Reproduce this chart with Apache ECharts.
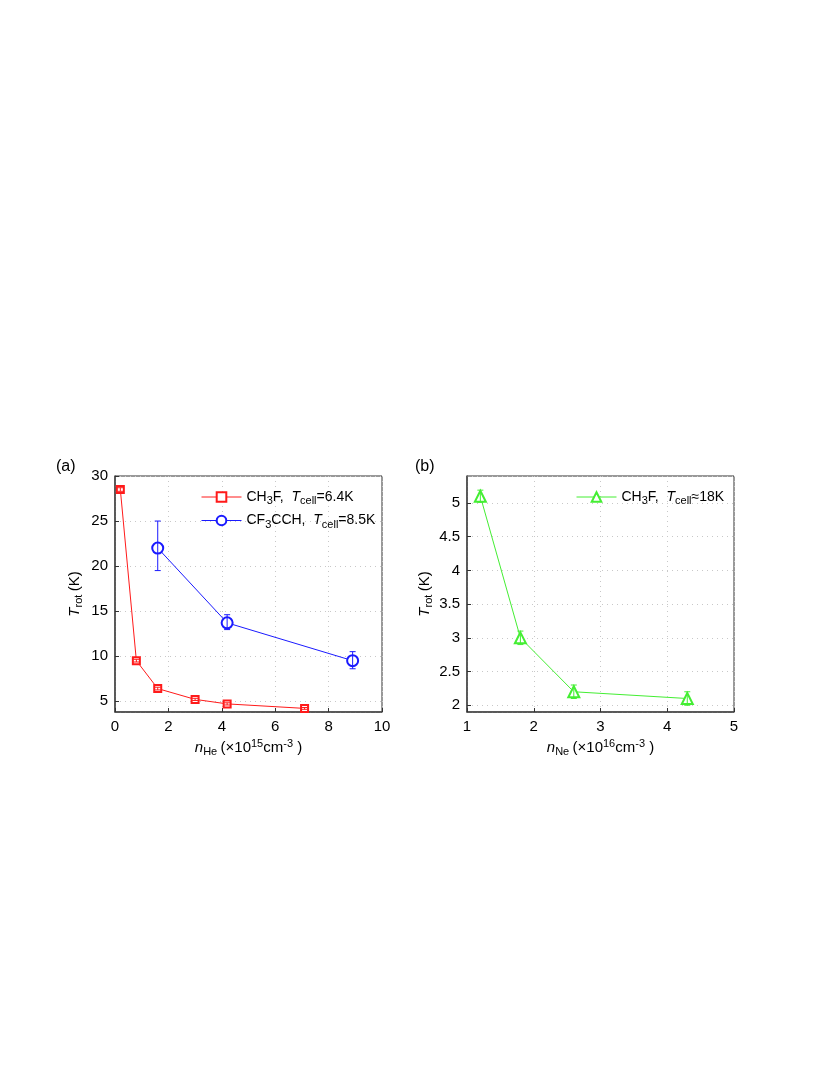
<!DOCTYPE html>
<html><head><meta charset="utf-8">
<script src="https://cdn.jsdelivr.net/npm/echarts@6/dist/echarts.min.js"></script>
<style>html,body{margin:0;padding:0;background:#fff}#c{width:830px;height:1075px}</style>
</head><body><div id="c"></div>
<script>
// Panel (a): CH3F in He
const xRedA = [0.2, 0.8, 1.6, 3.0, 4.2, 7.1];
const yRedA = [28.5, 9.5, 6.4, 5.2, 4.7, 4.2];
const eRedA = [0.2, 0.15, 0.15, 0.12, 0.12, 0.1];
// Panel (a): CF3CCH in He
const xBlueA = [1.6, 4.2, 8.9];
const yBlueA = [22.0, 13.7, 9.5];
const loBlueA = [19.5, 12.95, 8.6];
const hiBlueA = [25.0, 14.6, 10.5];
// Panel (b): CH3F in Ne
const xGreenB = [1.2, 1.8, 2.6, 4.3];
const yGreenB = [5.1, 3.0, 2.2, 2.1];
const eGreenB = [0.09, 0.1, 0.1, 0.1];

const nameRed = 'CH3F, Tcell=6.4K';
const nameBlue = 'CF3CCH, Tcell=8.5K';
const nameGreen = 'CH3F, Tcell~18K';

const FONT = '"Liberation Sans", Arial, sans-serif';
const RED = '#ff1a1a', BLUE = '#1a1aff', GREEN = '#44ee33';

function makeRich(fs, ss) {
  return {
    n: {fontSize: fs, fontFamily: FONT, color: '#000'},
    i: {fontSize: fs, fontFamily: FONT, fontStyle: 'italic', color: '#000'},
    sub: {fontSize: ss, fontFamily: FONT, color: '#000', padding: [8, 0, 0, 0]},
    sup: {fontSize: ss, fontFamily: FONT, color: '#000', padding: [0, 0, 7, 0]}
  };
}
const rich = makeRich(15, 11);
const richLeg = makeRich(14, 11);

function pairs(xs, ys) { return xs.map((x, k) => [x, ys[k]]); }

function errSeries(xi, lo, hi, color, name, idx) {
  const data = xi.map((x, k) => [x, lo[k], hi[k]]);
  return {
    type: 'custom', name: name, xAxisIndex: idx, yAxisIndex: idx,
    data: data, z: 5, silent: true,
    renderItem: function (params, api) {
      const p1 = api.coord([api.value(0), api.value(1)]);
      const p2 = api.coord([api.value(0), api.value(2)]);
      const w = 3;
      const st = {stroke: color, lineWidth: 1};
      return {type: 'group', children: [
        {type: 'line', shape: {x1: p1[0], y1: p1[1], x2: p2[0], y2: p2[1]}, style: st},
        {type: 'line', shape: {x1: p1[0] - w, y1: p1[1], x2: p1[0] + w, y2: p1[1]}, style: st},
        {type: 'line', shape: {x1: p2[0] - w, y1: p2[1], x2: p2[0] + w, y2: p2[1]}, style: st}
      ]};
    }
  };
}

const axisCommon = {
  axisLine: {show: true, onZero: false, lineStyle: {color: '#444', width: 1.5}},
  axisTick: {show: true, inside: true, length: 4, lineStyle: {color: '#333'}},
  axisLabel: {color: '#000', fontSize: 15, fontFamily: FONT, margin: 7},
  splitLine: {show: true, lineStyle: {color: '#c8c8c8', type: [1, 4], width: 1}}
};

const chart = echarts.init(document.getElementById('c'), null, {renderer: 'canvas'});
const option = {
  backgroundColor: '#fff',
  animation: false,
  grid: [
    {left: 115, top: 476, width: 267, height: 236, show: true, borderColor: '#333', borderWidth: 1, backgroundColor: 'transparent'},
    {left: 467, top: 476, width: 267, height: 236, show: true, borderColor: '#333', borderWidth: 1, backgroundColor: 'transparent'}
  ],
  xAxis: [
    Object.assign({}, axisCommon, {type: 'value', gridIndex: 0, min: 0, max: 10, interval: 2,
      name: '{i|n}{sub|He} {n|(×10}{sup|15}{n|cm}{sup|-3}{n| )}', nameLocation: 'middle', nameGap: 26,
      nameTextStyle: {rich: rich}}),
    Object.assign({}, axisCommon, {type: 'value', gridIndex: 1, min: 1, max: 5, interval: 1,
      name: '{i|n}{sub|Ne} {n|(×10}{sup|16}{n|cm}{sup|-3}{n| )}', nameLocation: 'middle', nameGap: 26,
      nameTextStyle: {rich: rich}})
  ],
  yAxis: [
    Object.assign({}, axisCommon, {type: 'value', gridIndex: 0, min: 3.8, max: 30, splitNumber: 5,
      axisLabel: Object.assign({}, axisCommon.axisLabel, {showMinLabel: false}),
      name: '{i|T}{sub|rot} {n|(K)}', nameLocation: 'middle', nameGap: 31, nameRotate: 90,
      nameTextStyle: {rich: rich}}),
    Object.assign({}, axisCommon, {type: 'value', gridIndex: 1, min: 1.9, max: 5.4, splitNumber: 7,
      axisLabel: Object.assign({}, axisCommon.axisLabel, {showMinLabel: false, showMaxLabel: false}),
      name: '{i|T}{sub|rot} {n|(K)}', nameLocation: 'middle', nameGap: 33, nameRotate: 90,
      nameTextStyle: {rich: rich}})
  ],
  legend: [
    {left: 196, top: 485, orient: 'vertical', itemWidth: 40, itemHeight: 12, itemGap: 7,
      data: [nameRed, nameBlue], selectedMode: false,
      lineStyle: {width: 1}, itemStyle: {borderWidth: 1},
      formatter: function (n) {
        if (n === nameRed) return '{n|CH}{sub|3}{n|F,  }{i|T}{sub|cell}{n|=6.4K}';
        return '{n|CF}{sub|3}{n|CCH,  }{i|T}{sub|cell}{n|=8.5K}';
      },
      textStyle: {rich: richLeg}},
    {left: 571, top: 485, orient: 'vertical', itemWidth: 40, itemHeight: 12,
      data: [nameGreen], selectedMode: false,
      lineStyle: {width: 1}, itemStyle: {borderWidth: 1},
      formatter: function () { return '{n|CH}{sub|3}{n|F,  }{i|T}{sub|cell}{n|≈18K}'; },
      textStyle: {rich: richLeg}}
  ],
  graphic: [
    {type: 'text', left: 56, top: 459, style: {text: '(a)', fontSize: 16, fontFamily: FONT, fill: '#000'}},
    {type: 'text', left: 415, top: 459, style: {text: '(b)', fontSize: 16, fontFamily: FONT, fill: '#000'}}
  ],
  series: [
    {type: 'line', name: nameRed, xAxisIndex: 0, yAxisIndex: 0, data: pairs(xRedA, yRedA),
      symbol: 'emptyRect', symbolSize: 7, lineStyle: {color: RED, width: 1}, itemStyle: {color: RED, borderWidth: 1}, z: 3},
    {type: 'line', name: nameBlue, xAxisIndex: 0, yAxisIndex: 0, data: pairs(xBlueA, yBlueA),
      symbol: 'emptyCircle', symbolSize: 11, lineStyle: {color: BLUE, width: 1}, itemStyle: {color: BLUE, borderWidth: 1}, z: 3},
    {type: 'line', name: nameGreen, xAxisIndex: 1, yAxisIndex: 1, data: pairs(xGreenB, yGreenB),
      symbol: 'emptyTriangle', symbolSize: 11, lineStyle: {color: GREEN, width: 1}, itemStyle: {color: GREEN, borderWidth: 1}, z: 3},
    errSeries(xRedA, yRedA.map((v, k) => v - eRedA[k]), yRedA.map((v, k) => v + eRedA[k]), RED, 'errRed', 0),
    errSeries(xBlueA, loBlueA, hiBlueA, BLUE, 'errBlue', 0),
    errSeries(xGreenB, yGreenB.map((v, k) => v - eGreenB[k]), yGreenB.map((v, k) => v + eGreenB[k]), GREEN, 'errGreen', 1)
  ]
};
chart.setOption(option);
</script>
</body></html>
